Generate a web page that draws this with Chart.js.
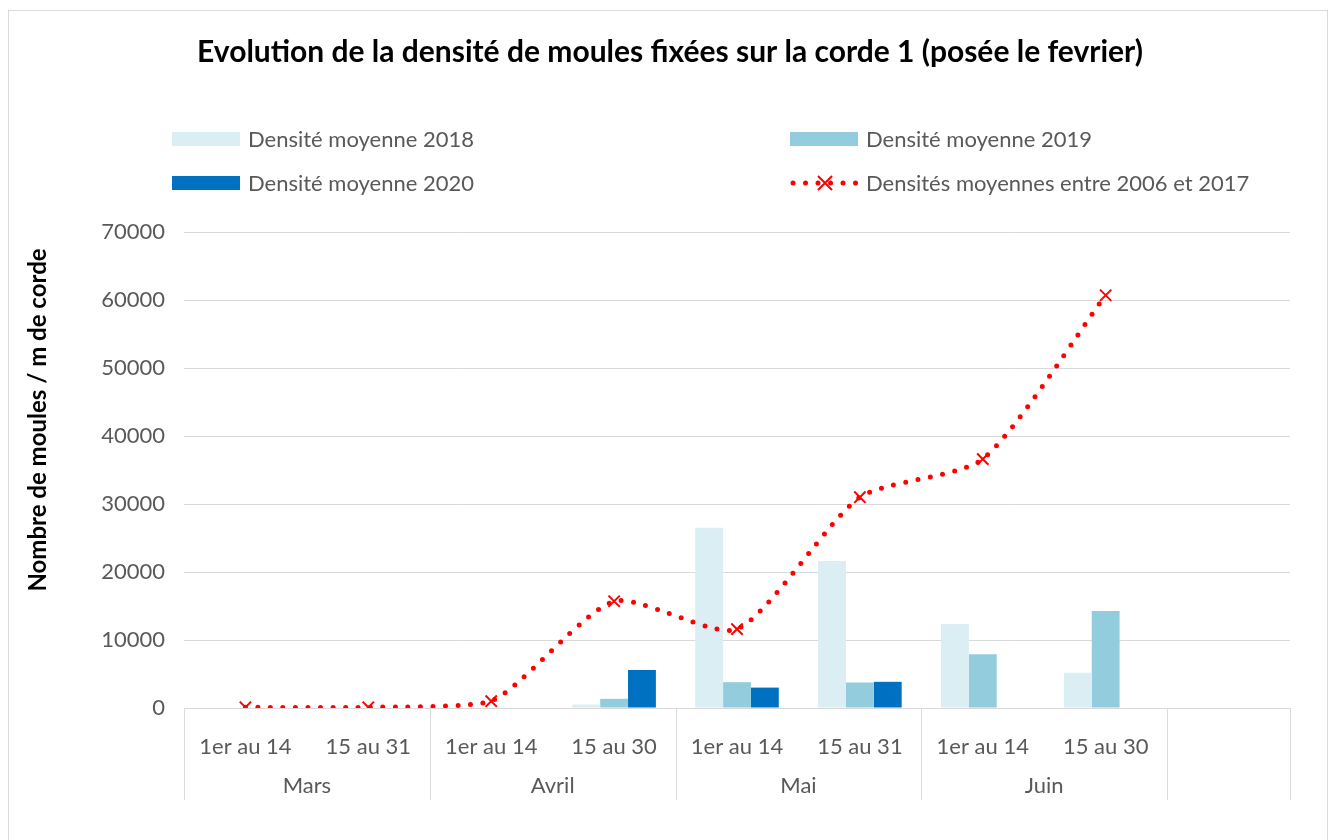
<!DOCTYPE html>
<html>
<head>
<meta charset="utf-8">
<script src="https://cdn.jsdelivr.net/npm/chart.js@4.4.1/dist/chart.umd.min.js"></script>
<style>
  html, body { margin: 0; padding: 0; background: #fff; }
  #wrap { width: 1336px; height: 840px; }
</style>
</head>
<body>
<div id="wrap"><canvas id="chart" width="1336" height="840"></canvas></div>
<script>
// Catégories (quinzaines) et mois
const categories = ['1er au 14', '15 au 31', '1er au 14', '15 au 30', '1er au 14', '15 au 31', '1er au 14', '15 au 30', ''];
const months = ['Mars', 'Avril', 'Mai', 'Juin'];

// Densités moyennes (moules / m de corde)
const dens2018 = [0, 0, 0, 500, 26500, 21600, 12350, 5200, null];
const dens2019 = [0, 0, 0, 1350, 3800, 3750, 7900, 14250, null];
const dens2020 = [0, 0, 0, 5600, 3000, 3850, null, null, null];
const dens2006_2017 = [100, 100, 1000, 15700, 11600, 31000, 36600, 60700, null];

const yTicks = [0, 10000, 20000, 30000, 40000, 50000, 60000, 70000];

const FONT = 'Lato, "Liberation Sans", sans-serif';
const GREY = '#595959';
const LINE = '#D9D9D9';

// Décor : cadre, titre, légende, titre de l'axe Y, mois
const decor = {
    id: 'decor',
    beforeDraw(chart) {
        const ctx = chart.ctx;
        ctx.save();
        ctx.fillStyle = '#fff';
        ctx.fillRect(0, 0, chart.width, chart.height);
        ctx.strokeStyle = LINE;
        ctx.lineWidth = 1;
        ctx.strokeRect(8.5, 10.5, 1319, 850);
        ctx.restore();
    },
    afterDraw(chart) {
        const ctx = chart.ctx;
        const x = chart.scales.x;
        const area = chart.chartArea;
        ctx.save();

        // titre
        ctx.fillStyle = '#000';
        ctx.font = 'bold 30px ' + FONT;
        ctx.textAlign = 'center';
        ctx.textBaseline = 'middle';
        ctx.fillText('Evolution de la densité de moules fixées sur la corde 1 (posée le fevrier)', 670, 52);

        // légende sur deux colonnes
        const slots = [[172, 139], [790, 139], [172, 183], [790, 183]];
        ctx.font = '22px ' + FONT;
        ctx.textAlign = 'left';
        chart.data.datasets.forEach((ds, i) => {
            const [lx, ly] = slots[i];
            if (ds.type === 'line') {
                ctx.fillStyle = ds.borderColor;
                for (let k = 0; k < 6; k++) {
                    ctx.beginPath();
                    ctx.arc(lx + 3 + k * 12.5, ly, 2.5, 0, Math.PI * 2);
                    ctx.fill();
                }
                ctx.strokeStyle = ds.borderColor;
                ctx.lineWidth = 2;
                ctx.beginPath();
                ctx.moveTo(lx + 28, ly - 7); ctx.lineTo(lx + 42, ly + 7);
                ctx.moveTo(lx + 42, ly - 7); ctx.lineTo(lx + 28, ly + 7);
                ctx.stroke();
            } else {
                ctx.fillStyle = ds.backgroundColor;
                ctx.fillRect(lx, ly - 7, 68, 14);
            }
            ctx.fillStyle = GREY;
            ctx.fillText(ds.label, lx + 76, ly + 1);
        });

        // titre de l'axe Y
        ctx.save();
        ctx.translate(38, 420);
        ctx.rotate(-Math.PI / 2);
        ctx.textAlign = 'center';
        ctx.fillStyle = '#000';
        ctx.font = 'bold 24px ' + FONT;
        ctx.fillText('Nombre de moules / m de corde', 0, 0);
        ctx.restore();

        // séparateurs et mois
        const step = (area.right - area.left) / categories.length;
        ctx.strokeStyle = LINE;
        ctx.lineWidth = 1;
        [0, 2, 4, 6, 8, 9].forEach(k => {
            const px = Math.round(area.left + k * step) + 0.5;
            ctx.beginPath();
            ctx.moveTo(px, area.bottom);
            ctx.lineTo(px, 800);
            ctx.stroke();
        });
        ctx.fillStyle = GREY;
        ctx.font = '22px ' + FONT;
        ctx.textAlign = 'center';
        months.forEach((m, i) => {
            const cx = (x.getPixelForValue(2 * i) + x.getPixelForValue(2 * i + 1)) / 2;
            ctx.fillText(m, cx, 786);
        });
        ctx.restore();
    }
};

const ctx = document.getElementById('chart').getContext('2d');
window.mouleChart = new Chart(ctx, {
    data: {
        labels: categories,
        datasets: [
            {
                type: 'bar',
                label: 'Densité moyenne 2018',
                data: dens2018,
                backgroundColor: '#DAEEF3',
                order: 1
            },
            {
                type: 'bar',
                label: 'Densité moyenne 2019',
                data: dens2019,
                backgroundColor: '#93CDDD',
                order: 1
            },
            {
                type: 'bar',
                label: 'Densité moyenne 2020',
                data: dens2020,
                backgroundColor: '#0070C0',
                order: 1
            },
            {
                type: 'line',
                label: 'Densités moyennes entre 2006 et 2017',
                data: dens2006_2017,
                borderColor: '#FF0000',
                backgroundColor: '#FF0000',
                borderWidth: 5,
                borderDash: [0, 12.5],
                borderCapStyle: 'round',
                tension: 0.22,
                pointStyle: 'crossRot',
                pointRadius: 8,
                pointBorderWidth: 2,
                pointBorderColor: '#FF0000',
                fill: false,
                order: 0
            }
        ]
    },
    options: {
        responsive: false,
        animation: false,
        categoryPercentage: 0.68,
        barPercentage: 1.0,
        layout: { padding: { top: 232, right: 46, left: 0, bottom: 0 } },
        plugins: {
            legend: { display: false },
            tooltip: { enabled: false }
        },
        scales: {
            x: {
                grid: { display: false },
                border: { display: true, color: LINE, width: 1 },
                ticks: { color: GREY, font: { family: FONT, size: 22 }, padding: 18, maxRotation: 0, autoSkip: false },
                afterFit: s => { s.height = 132; }
            },
            y: {
                min: 0,
                max: 70000,
                afterBuildTicks: s => { s.ticks = yTicks.map(v => ({ value: v })); },
                grid: { color: LINE, drawTicks: false },
                border: { display: false },
                ticks: { color: GREY, font: { family: FONT, size: 22 }, padding: 19, callback: v => String(v) },
                afterFit: s => { s.width = 184; }
            }
        }
    },
    plugins: [decor]
});
</script>
</body>
</html>
